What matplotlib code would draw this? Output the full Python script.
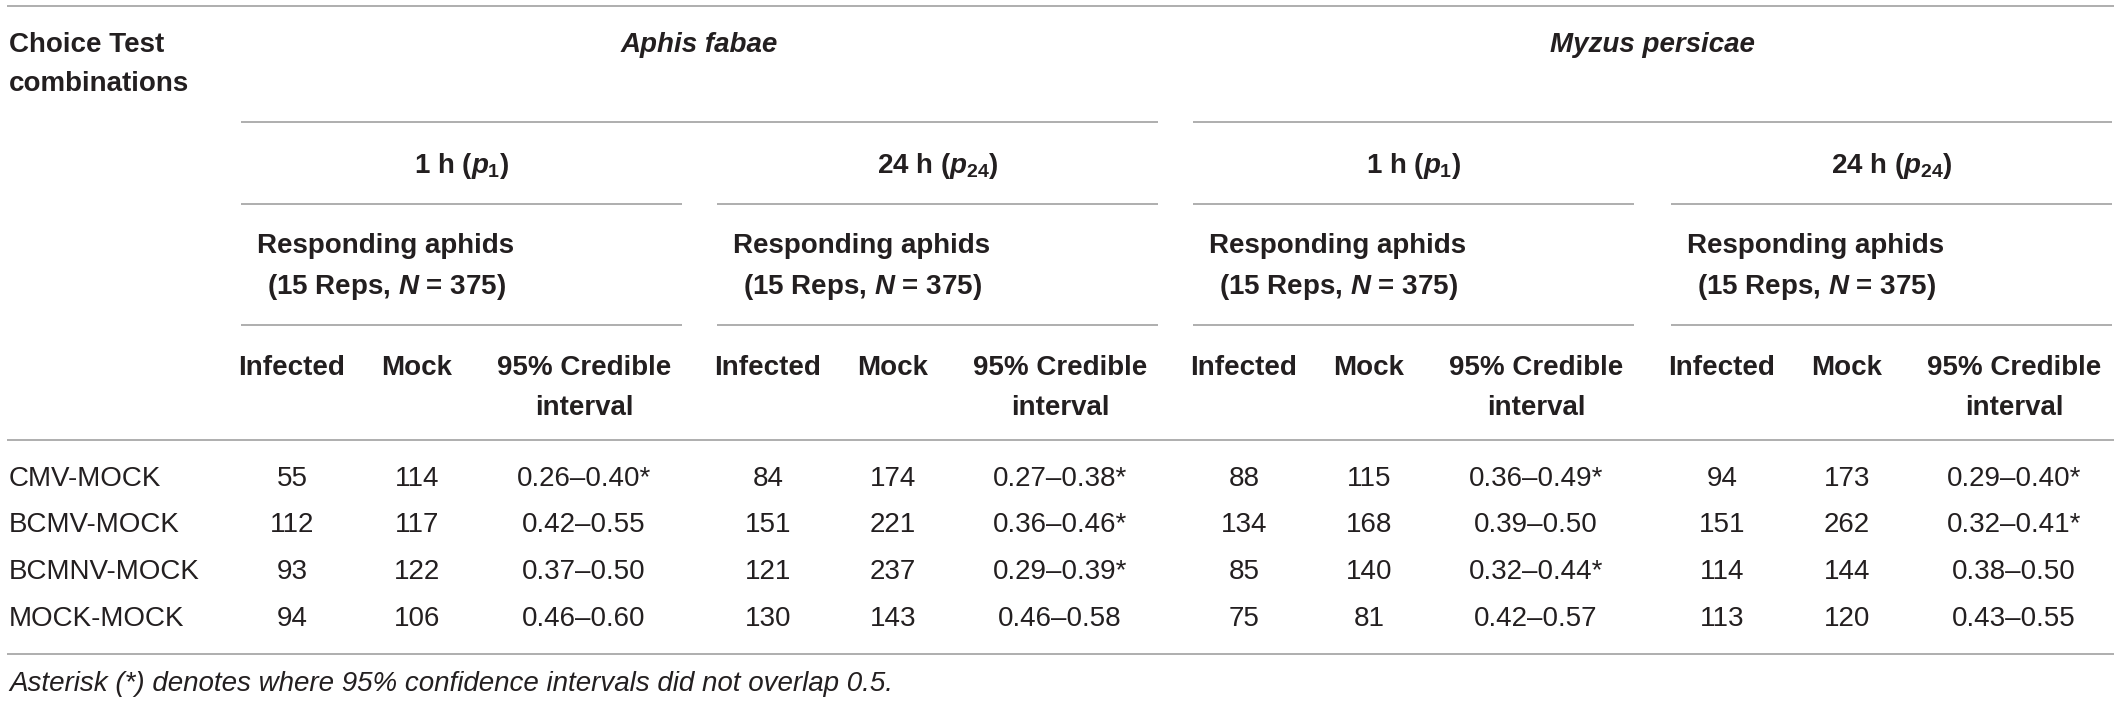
import matplotlib
matplotlib.use("Agg")
import matplotlib.pyplot as plt

plt.rcParams['font.family'] = ['Liberation Sans', 'DejaVu Sans']
plt.rcParams['mathtext.fontset'] = 'custom'
plt.rcParams['mathtext.rm'] = 'Liberation Sans:bold'
plt.rcParams['mathtext.it'] = 'Liberation Sans:italic:bold'
plt.rcParams['mathtext.bf'] = 'Liberation Sans:bold'

# table data
combos = ["CMV-MOCK", "BCMV-MOCK", "BCMNV-MOCK", "MOCK-MOCK"]
species = ["Aphis fabae", "Myzus persicae"]
times = [r"1 h ($p_{1}$)", r"24 h ($p_{24}$)"]

af_1h_inf = [55, 112, 93, 94]
af_1h_mock = [114, 117, 122, 106]
af_1h_ci = ["0.26\u20130.40*", "0.42\u20130.55", "0.37\u20130.50", "0.46\u20130.60"]

af_24h_inf = [84, 151, 121, 130]
af_24h_mock = [174, 221, 237, 143]
af_24h_ci = ["0.27\u20130.38*", "0.36\u20130.46*", "0.29\u20130.39*", "0.46\u20130.58"]

mp_1h_inf = [88, 134, 85, 75]
mp_1h_mock = [115, 168, 140, 81]
mp_1h_ci = ["0.36\u20130.49*", "0.39\u20130.50", "0.32\u20130.44*", "0.42\u20130.57"]

mp_24h_inf = [94, 151, 114, 113]
mp_24h_mock = [173, 262, 144, 120]
mp_24h_ci = ["0.29\u20130.40*", "0.32\u20130.41*", "0.38\u20130.50", "0.43\u20130.55"]

groups = [
    (af_1h_inf, af_1h_mock, af_1h_ci),
    (af_24h_inf, af_24h_mock, af_24h_ci),
    (mp_1h_inf, mp_1h_mock, mp_1h_ci),
    (mp_24h_inf, mp_24h_mock, mp_24h_ci),
]
footnote = "Asterisk (*) denotes where 95% confidence intervals did not overlap 0.5."

# layout (pixels)
W, H = 2120, 702
txt = "#231f20"
lc = "#999999"
lw = 1.1
fs = 20

fig = plt.figure(figsize=(W / 100, H / 100), dpi=100)
ax = fig.add_axes([0, 0, 1, 1])
ax.set_xlim(0, W)
ax.set_ylim(H, 0)
ax.axis('off')

gx = [241, 717, 1193, 1671]
gw = 441
col_off = [51, 176, 343]
row_y = [486, 532, 579, 626]


def hline(y, x0, x1):
    ax.plot([x0, x1], [y, y], color=lc, lw=lw, solid_capstyle='butt')


# horizontal rules
hline(6, 7, 2114)
hline(122, gx[0], gx[1] + gw)
hline(122, gx[2], gx[3] + gw)
for x in gx:
    hline(204, x, x + gw)
    hline(325, x, x + gw)
hline(440, 7, 2114)
hline(654, 7, 2114)

# stub header
ax.text(9, 52, "Choice Test", fontsize=fs, fontweight='bold', color=txt, va='baseline')
ax.text(9, 91, "combinations", fontsize=fs, fontweight='bold', color=txt, va='baseline')

# species headers
for i, sp in enumerate(species):
    cx = (gx[2 * i] + gx[2 * i + 1] + gw) / 2
    ax.text(cx, 52, sp, fontsize=fs, fontweight='bold', style='italic',
            color=txt, ha='center', va='baseline')

for g, x in enumerate(gx):
    ax.text(x + gw / 2, 173, times[g % 2], fontsize=fs, fontweight='bold',
            color=txt, ha='center', va='baseline')
    ax.text(x + 145, 253, "Responding aphids", fontsize=fs, fontweight='bold',
            color=txt, ha='center', va='baseline')
    ax.text(x + 145, 294, r"(15 Reps, $N$ = 375)", fontsize=fs, fontweight='bold',
            color=txt, ha='center', va='baseline')
    ax.text(x + col_off[0], 375, "Infected", fontsize=fs, fontweight='bold',
            color=txt, ha='center', va='baseline')
    ax.text(x + col_off[1], 375, "Mock", fontsize=fs, fontweight='bold',
            color=txt, ha='center', va='baseline')
    ax.text(x + col_off[2], 375, "95% Credible", fontsize=fs, fontweight='bold',
            color=txt, ha='center', va='baseline')
    ax.text(x + col_off[2], 415, "interval", fontsize=fs, fontweight='bold',
            color=txt, ha='center', va='baseline')

    inf, mock, ci = groups[g]
    for r in range(len(combos)):
        ax.text(x + col_off[0], row_y[r], str(inf[r]), fontsize=fs, color=txt,
                ha='center', va='baseline')
        ax.text(x + col_off[1], row_y[r], str(mock[r]), fontsize=fs, color=txt,
                ha='center', va='baseline')
        ax.text(x + col_off[2], row_y[r], ci[r], fontsize=fs, color=txt,
                ha='center', va='baseline')

for r, c in enumerate(combos):
    ax.text(9, row_y[r], c, fontsize=fs, color=txt, va='baseline')

ax.text(9, 691, footnote, fontsize=fs, style='italic', color=txt, va='baseline')

fig.savefig("out.png", dpi=100)
